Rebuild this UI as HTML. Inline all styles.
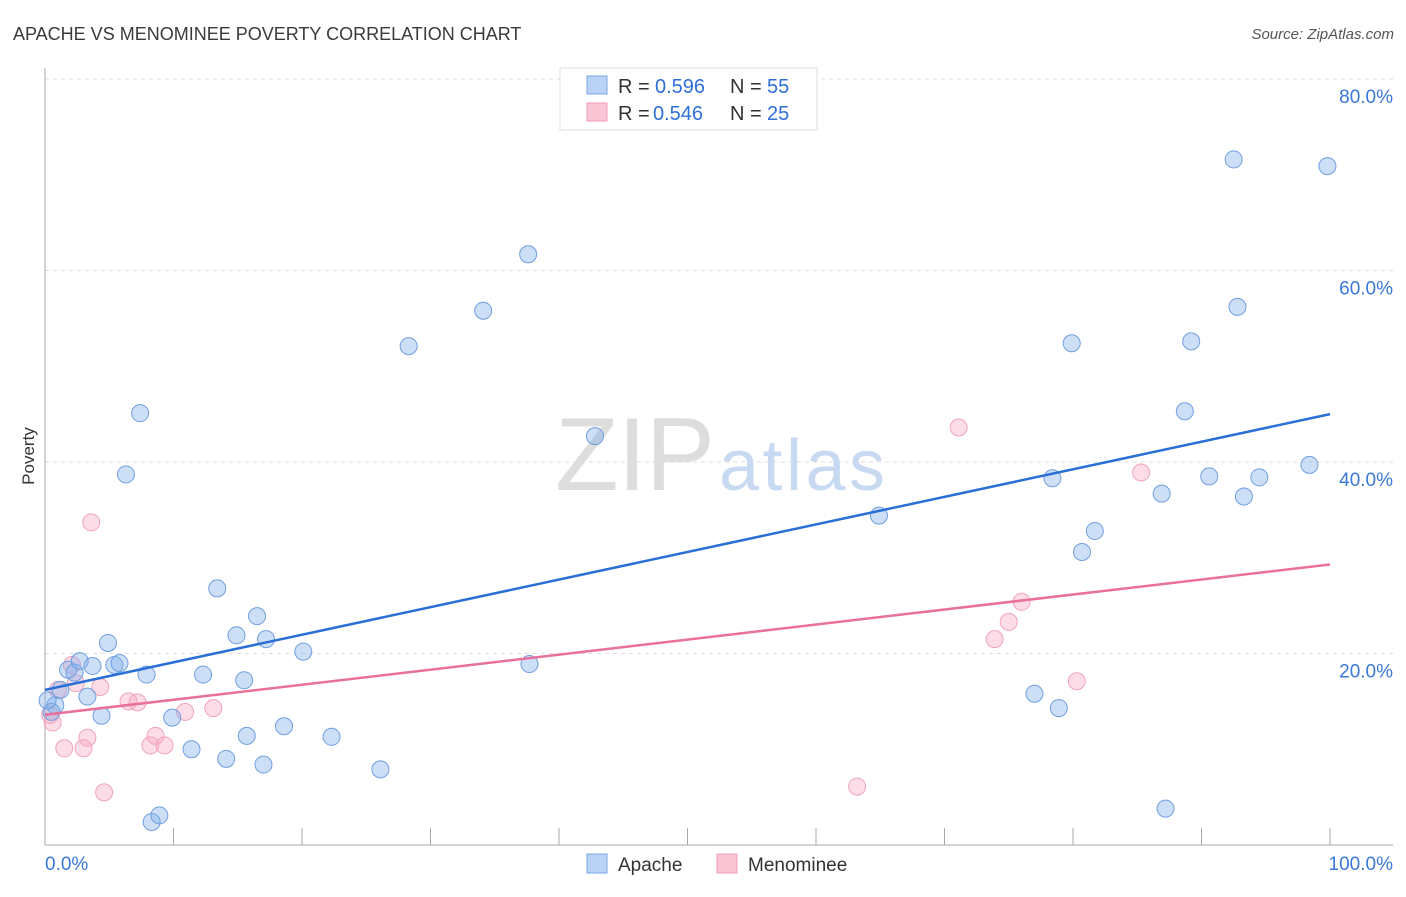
<!DOCTYPE html>
<html><head><meta charset="utf-8"><style>
body{margin:0;background:#fff;font-family:"Liberation Sans",sans-serif;}
svg text{font-family:"Liberation Sans",sans-serif;}
</style></head><body>
<svg id="chart" width="1406" height="892">
<text x="13" y="40" font-size="18" fill="#3a3a3a">APACHE VS MENOMINEE POVERTY CORRELATION CHART</text>
<text x="1394" y="39" font-size="15" fill="#555" font-style="italic" text-anchor="end">Source: ZipAtlas.com</text>
<text x="34" y="456" font-size="17" fill="#333" transform="rotate(-90 34 456)" text-anchor="middle">Poverty</text>
<g id="grid"></g>
<text x="715" y="490" font-size="104" fill="#ddd" font-family="Liberation Serif" text-anchor="end" textLength="160">ZIP</text>
<text x="719" y="490" font-size="72" fill="#c8daf2" textLength="166">atlas</text>
<g id="marks"></g>
<g>
<rect x="560" y="68" width="257" height="62" fill="#fff" stroke="#ddd"/>
<rect x="587" y="76" width="20" height="18" fill="#b8d3f5" stroke="#7aa6e3"/>
<text x="618" y="93" font-size="20" fill="#333">R =</text>
<text x="655" y="93" font-size="20" fill="#2e6fd8">0.596</text>
<text x="730" y="93" font-size="20" fill="#333">N =</text>
<text x="767" y="93" font-size="20" fill="#2e6fd8">55</text>
<rect x="587" y="103" width="20" height="18" fill="#fac6d6" stroke="#ef9fb8"/>
<text x="618" y="120" font-size="20" fill="#333">R =</text>
<text x="653" y="120" font-size="20" fill="#2e6fd8">0.546</text>
<text x="730" y="120" font-size="20" fill="#333">N =</text>
<text x="767" y="120" font-size="20" fill="#2e6fd8">25</text>
</g>
<g>
<rect x="587" y="854" width="20" height="19" fill="#b8d3f5" stroke="#7aa6e3"/>
<text x="618" y="871" font-size="19" fill="#333">Apache</text>
<rect x="717" y="854" width="20" height="19" fill="#fac6d6" stroke="#ef9fb8"/>
<text x="748" y="871" font-size="19" fill="#333">Menominee</text>
</g>
</svg>
<script>
const apacheX=[0.8,0.5,0.2,1.2,1.8,2.3,2.7,3.7,3.3,4.4,4.9,5.4,5.8,6.3,7.4,7.9,8.3,8.9,9.9,11.4,12.3,13.4,14.1,14.9,15.5,15.7,16.5,17.0,17.2,18.6,20.1,22.3,26.1,28.3,34.1,37.6,37.7,42.8,64.9,77.0,78.4,78.9,79.9,80.7,81.7,86.9,87.2,88.7,89.2,90.6,92.5,92.8,93.3,94.5,98.4,99.8];
const apacheY=[14.6,13.9,15.1,16.2,18.3,18.0,19.2,18.7,15.5,13.5,21.1,18.8,19.0,38.7,45.1,17.8,2.4,3.1,13.3,10.0,17.8,26.8,9.0,21.9,17.2,11.4,23.9,8.4,21.5,12.4,20.2,11.3,7.9,52.1,55.8,61.7,18.9,42.7,34.4,15.8,38.3,14.3,52.4,30.6,32.8,36.7,3.8,45.3,52.6,38.5,71.6,56.2,36.4,38.4,39.7,70.9];
const menX=[0.6,0.4,1.0,1.5,2.1,2.4,3.0,3.3,3.6,4.3,4.6,6.5,7.2,8.2,8.6,9.3,10.9,13.1,63.2,71.1,73.9,75.0,76.0,80.3,85.3];
const menY=[12.8,13.6,16.2,10.1,18.8,16.9,10.1,11.2,33.7,16.5,5.5,15.0,14.9,10.4,11.4,10.4,13.9,14.3,6.1,43.6,21.5,23.3,25.4,17.1,38.9];
const apacheTrend=[16.2,45.0];
const menTrend=[13.6,29.3];
const yTicks=[20,40,60,80];
const xTicks=[0,10,20,30,40,50,60,70,80,90,100];
const NS="http://www.w3.org/2000/svg";
const sx=v=>45+v*12.85;
const sy=v=>845-v*9.575;
function mk(tag,attrs,parent){const e=document.createElementNS(NS,tag);for(const k in attrs)e.setAttribute(k,attrs[k]);parent.appendChild(e);return e;}
const grid=document.getElementById('grid'),marks=document.getElementById('marks');
yTicks.forEach(t=>{
 const l=mk('line',{x1:45,x2:1393,y1:sy(t),y2:sy(t),stroke:'#ddd','stroke-dasharray':'4,4'},grid);
 
 
 const tx=mk('text',{x:1393,y:sy(t)+24,'font-size':19,fill:'#3a78d8','text-anchor':'end'},grid);
 tx.textContent=t.toFixed(1)+'%';
 
 
});
const ax=mk('line',{x1:45,x2:1393,y1:845,y2:845,stroke:'#aaa'},grid);


const ay=mk('line',{x1:45,x2:45,y1:68,y2:845,stroke:'#aaa'},grid);


xTicks.forEach(t=>{
 const l=mk('line',{x1:sx(t),x2:sx(t),y1:828,y2:845,stroke:'#aaa'},grid);
 
 
});
[[0,'0.0%','start',45],[100,'100.0%','end',1393]].forEach(a=>{
 const tx=mk('text',{x:a[3],y:870,'font-size':19,fill:'#3a78d8','text-anchor':a[2]},grid);
 tx.textContent=a[1];
 
 
});
function pts(xs,ys,fill,stroke,name){
 xs.forEach((x,i)=>{
  const c=mk('circle',{cx:sx(x),cy:sy(ys[i]),r:8.5,fill:fill,stroke:stroke,'stroke-width':1},marks);
  
  
 });
}
pts(menX,menY,'rgba(247,170,195,0.4)','#f0a3ba','menominee');
pts(apacheX,apacheY,'rgba(130,175,235,0.4)','#6f9fe0','apache');
const t1=mk('line',{x1:sx(0),y1:sy(apacheTrend[0]),x2:sx(100),y2:sy(apacheTrend[1]),stroke:'#2a6fd6','stroke-width':2.5},marks);


const t2=mk('line',{x1:sx(0),y1:sy(menTrend[0]),x2:sx(100),y2:sy(menTrend[1]),stroke:'#e8709a','stroke-width':2.5},marks);


</script>
</body></html>
